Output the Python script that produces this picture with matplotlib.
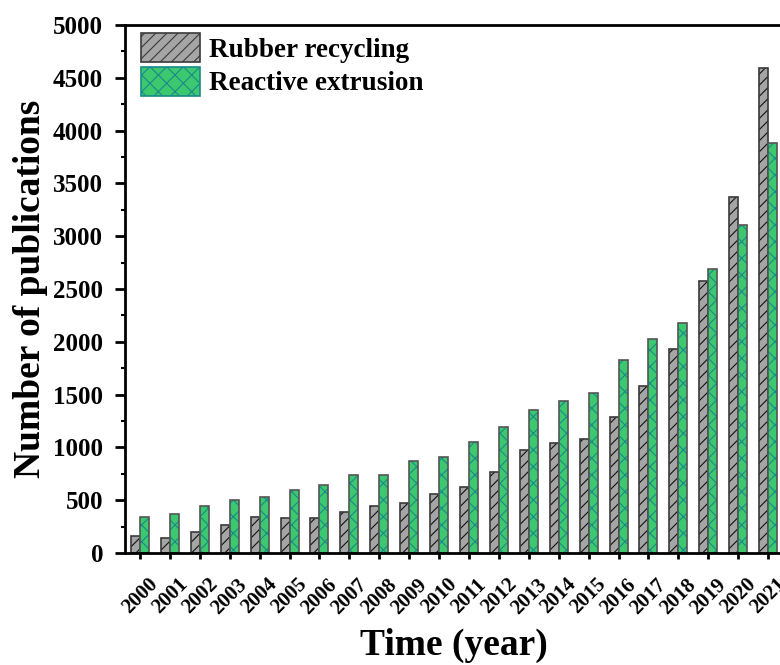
import numpy as np
import matplotlib
matplotlib.use("Agg")
import matplotlib.pyplot as plt
import matplotlib.transforms as mtransforms
from matplotlib.ticker import MultipleLocator
from matplotlib.patches import Patch

plt.rcParams['font.family'] = ['Liberation Serif', 'DejaVu Serif']
plt.rcParams['font.weight'] = 'bold'
plt.rcParams['hatch.linewidth'] = 0.8

# data
years = list(range(2000, 2022))
rubber = [163, 139, 195, 261, 340, 327, 327, 384, 441, 478, 560,
          626, 771, 976, 1039, 1083, 1284, 1580, 1933, 2575, 3374, 4596]
extrusion = [340, 368, 441, 498, 526, 592, 642, 737, 743, 869, 913,
             1055, 1190, 1353, 1435, 1511, 1832, 2027, 2181, 2688, 3104, 3884]

x = np.arange(len(years))
w = 0.3

fig = plt.figure(figsize=(7.8, 6.65), dpi=100)
# axes runs a bit past the right edge, as in the source figure
ax = fig.add_axes([0.1603, 0.1684, 0.8436, 0.794])

# fill + hatch, then outline on top
ax.bar(x - w / 2, rubber, w, color='#a5a5a5', edgecolor='#111111', hatch='///', linewidth=0)
ax.bar(x - w / 2, rubber, w, fill=False, edgecolor='#3a3a3a', linewidth=1.2)
ax.bar(x + w / 2, extrusion, w, color='#3cc86e', edgecolor='#1a8a8a', hatch='xx', linewidth=0)
ax.bar(x + w / 2, extrusion, w, fill=False, edgecolor='#555555', linewidth=1.2)

# legend proxies
h1 = Patch(facecolor='#a5a5a5', edgecolor='#3a3a3a', hatch='///', linewidth=1.2)
h2 = Patch(facecolor='#3cc86e', edgecolor='#1a8a8a', hatch='xx', linewidth=1.2)
ax.legend([h1, h2], ['Rubber recycling', 'Reactive extrusion'], loc='upper left',
          frameon=False, fontsize=19.5, handlelength=2.2, handleheight=1.27,
          handletextpad=0.3, labelspacing=0.15, borderaxespad=0.0, borderpad=0.0,
          bbox_to_anchor=(0.024, 0.985))

ax.set_xlim(-0.5, 21.5)
ax.set_ylim(0, 5000)
ax.set_xticks(x)
ax.set_xticklabels([str(y) for y in years], rotation=45, ha='center', va='top',
                   fontsize=15, fontweight='bold')
shift = mtransforms.ScaledTranslation(-4 / 100, 0, fig.dpi_scale_trans)
for lab in ax.get_xticklabels():
    lab.set_transform(lab.get_transform() + shift)
ax.yaxis.set_major_locator(MultipleLocator(500))
ax.yaxis.set_minor_locator(MultipleLocator(250))
for lab in ax.get_yticklabels():
    lab.set_fontsize(18)
    lab.set_fontweight('bold')

ax.tick_params(axis='x', which='major', direction='out', length=4.5, width=2, pad=11)
ax.tick_params(axis='y', which='major', direction='out', length=7.2, width=2, pad=8.5)
ax.tick_params(axis='y', which='minor', direction='out', length=3, width=1.5)
for s in ['left', 'bottom', 'top']:
    ax.spines[s].set_linewidth(2)
ax.spines['right'].set_visible(False)

ax.set_ylabel('Number of publications', fontsize=27, fontweight='bold', labelpad=4)
ax.set_xlabel('Time (year)', fontsize=27, fontweight='bold')
ax.xaxis.set_label_coords(0.5, -0.141)

fig.savefig('out.png', dpi=100)
